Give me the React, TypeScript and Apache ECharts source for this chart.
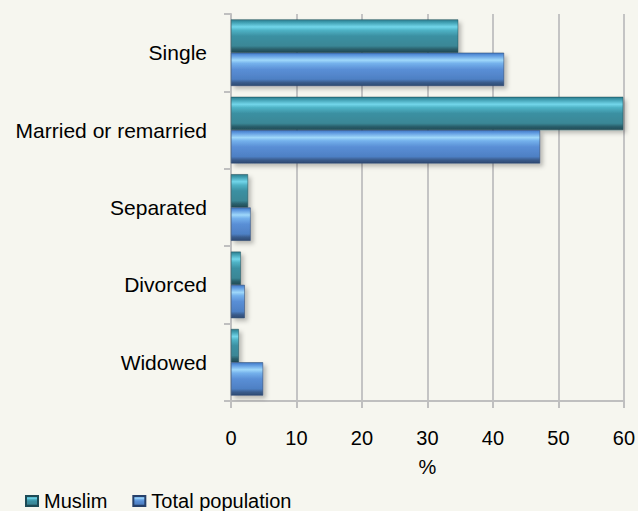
import React, { useEffect, useRef } from "react";
import * as echarts from "echarts";

const categories = ["Single", "Married or remarried", "Separated", "Divorced", "Widowed"];
const muslimValues = [34.7, 59.9, 2.6, 1.5, 1.2];
const totalValues = [41.7, 47.2, 3.0, 2.1, 4.9];
const xTicks = [0, 10, 20, 30, 40, 50, 60];

const muslimGradient = new echarts.graphic.LinearGradient(0, 0, 0, 1, [
  { offset: 0, color: "#2c7c8d" },
  { offset: 0.08, color: "#3f9db0" },
  { offset: 0.22, color: "#72d6ea" },
  { offset: 0.32, color: "#4fb3c6" },
  { offset: 0.5, color: "#3b90a2" },
  { offset: 0.8, color: "#3a8796" },
  { offset: 0.9, color: "#2a5f6b" },
  { offset: 1, color: "#214b55" },
]);

const totalGradient = new echarts.graphic.LinearGradient(0, 0, 0, 1, [
  { offset: 0, color: "#4279c4" },
  { offset: 0.08, color: "#5f9ae0" },
  { offset: 0.22, color: "#9fd8fa" },
  { offset: 0.32, color: "#74b1ec" },
  { offset: 0.5, color: "#5a8fd6" },
  { offset: 0.8, color: "#4e80c4" },
  { offset: 0.9, color: "#3a5c8c" },
  { offset: 1, color: "#2e4a72" },
]);

export default function App() {
  const ref = useRef<HTMLDivElement>(null);
  useEffect(() => {
    if (!ref.current) return;
    const chart = echarts.init(ref.current, null, { renderer: "svg" });
    const font = "'Liberation Sans', Arial, sans-serif";
    chart.setOption({
      animation: false,
      backgroundColor: "#f6f6ef",
      textStyle: { fontFamily: font },
      grid: { left: 231, right: 11, top: 14, bottom: 110, containLabel: false },
      legend: {
        left: 20,
        top: 486,
        itemWidth: 12,
        itemHeight: 10,
        itemGap: 25,
        icon: "rect",
        textStyle: { fontSize: 20, color: "#000", fontFamily: font, padding: [0, 0, 0, 1] },
        data: ["Muslim", "Total population"],
      },
      xAxis: {
        type: "value",
        min: 0,
        max: 60,
        interval: 10,
        name: "%",
        nameLocation: "middle",
        nameGap: 56,
        nameTextStyle: { fontSize: 20, color: "#000", fontFamily: font },
        axisLine: { show: true, lineStyle: { color: "#bfbfbf", width: 2 } },
        axisTick: { show: true, length: 7, lineStyle: { color: "#bfbfbf", width: 2 } },
        axisLabel: {
          fontSize: 20,
          color: "#000",
          margin: 27,
          fontFamily: font,
          formatter: (v: number) => (xTicks.includes(v) ? String(v) : ""),
        },
        splitLine: { show: true, lineStyle: { color: "#c4c4c4", width: 2 } },
      },
      yAxis: {
        type: "category",
        data: categories,
        inverse: true,
        axisLine: { show: true, lineStyle: { color: "#bfbfbf", width: 2 } },
        axisTick: { show: true, length: 7, lineStyle: { color: "#bfbfbf", width: 2 } },
        axisLabel: { fontSize: 21, color: "#000", margin: 24, fontFamily: font },
        splitLine: { show: false },
      },
      series: [
        {
          name: "Muslim",
          type: "bar",
          data: muslimValues,
          barGap: "0%",
          barCategoryGap: "14%",
          itemStyle: {
            color: muslimGradient,
            borderColor: "#1d4a55",
            borderWidth: 0.5,
            shadowColor: "rgba(0,0,0,0.25)",
            shadowBlur: 4,
            shadowOffsetX: 3,
            shadowOffsetY: 3,
          },
        },
        {
          name: "Total population",
          type: "bar",
          data: totalValues,
          barGap: "0%",
          barCategoryGap: "14%",
          itemStyle: {
            color: totalGradient,
            borderColor: "#26406a",
            borderWidth: 0.5,
            shadowColor: "rgba(0,0,0,0.25)",
            shadowBlur: 4,
            shadowOffsetX: 3,
            shadowOffsetY: 3,
          },
        },
      ],
    });
    return () => chart.dispose();
  }, []);
  return <div ref={ref} style={{ width: 638, height: 511, position: "fixed", left: 0, top: 0 }} />;
}
